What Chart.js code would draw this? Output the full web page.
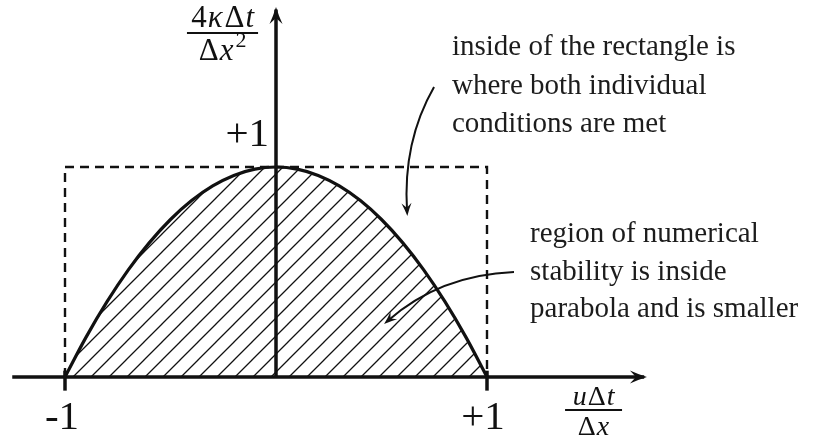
<!DOCTYPE html>
<html>
<head>
<meta charset="utf-8">
<script src="https://cdn.jsdelivr.net/npm/chart.js@4"></script>
<style>
html, body { margin: 0; padding: 0; background: #fff; }
#wrap { width: 831px; height: 443px; position: relative; }
</style>
</head>
<body>
<div id="wrap"><canvas id="myChart"></canvas></div>
<script>
// stability boundary (upper edge of the hatched region)
const curveX = [-1, -0.9, -0.8, -0.7, -0.6, -0.5, -0.4, -0.3, -0.2, -0.1, 0,
                0.1, 0.2, 0.3, 0.4, 0.5, 0.6, 0.7, 0.8, 0.9, 1];
const curveY = [0, 0.19, 0.36, 0.51, 0.64, 0.75, 0.84, 0.91, 0.96, 0.99, 1,
                0.99, 0.96, 0.91, 0.84, 0.75, 0.64, 0.51, 0.36, 0.19, 0];

// dashed box of the two separate conditions
const boxX = [-1, -1, 1, 1];
const boxY = [0, 1, 1, 0];

const tickValues = [-1, 1];
const tickLabels = ['-1', '+1'];
const peakValue = 1;
const peakLabel = '+1';

const noteTop = ['inside of the rectangle is', 'where both individual', 'conditions are met'];
const noteBottom = ['region of numerical', 'stability is inside', 'parabola and is smaller'];

const INK = '#111';
const SERIF = '"Liberation Serif", "DejaVu Serif", serif';

function hatchPattern() {
  const c = document.createElement('canvas');
  c.width = 18; c.height = 18;
  const g = c.getContext('2d');
  g.strokeStyle = INK;
  g.lineWidth = 1.3;
  g.beginPath();
  g.moveTo(-2, 20); g.lineTo(20, -2);
  g.moveTo(-2, 2); g.lineTo(2, -2);
  g.moveTo(16, 20); g.lineTo(20, 16);
  g.stroke();
  return g.createPattern(c, 'repeat');
}

function toPoints(xs, ys) {
  return xs.map((x, i) => ({ x: x, y: ys[i] }));
}

// LaTeX style arrow head, tip at (x, y), pointing along angle
function arrowHead(ctx, x, y, angle, len, half) {
  ctx.save();
  ctx.translate(x, y);
  ctx.rotate(angle);
  ctx.beginPath();
  ctx.moveTo(0, 0);
  ctx.quadraticCurveTo(-len * 0.5, -half * 0.4, -len, -half);
  ctx.lineTo(-len * 0.65, 0);
  ctx.lineTo(-len, half);
  ctx.quadraticCurveTo(-len * 0.5, half * 0.4, 0, 0);
  ctx.closePath();
  ctx.fill();
  ctx.restore();
}

// text built from runs with different styles, centred on cx
function mathText(ctx, parts, cx, y, size) {
  const fontOf = p => (p.it ? 'italic ' : '') + Math.round(size * (p.s || 1)) + 'px ' + SERIF;
  let w = 0;
  parts.forEach(p => { ctx.font = fontOf(p); w += ctx.measureText(p.t).width + (p.gap || 0); });
  let x = cx - w / 2;
  parts.forEach(p => {
    ctx.font = fontOf(p);
    ctx.fillText(p.t, x, y + (p.dy || 0));
    x += ctx.measureText(p.t).width + (p.gap || 0);
  });
}

const decorations = {
  id: 'decorations',
  afterDatasetsDraw(chart) {
    const ctx = chart.ctx;
    const xs = chart.scales.x, ys = chart.scales.y;
    const px = v => xs.getPixelForValue(v);
    const py = v => ys.getPixelForValue(v);

    ctx.save();
    ctx.strokeStyle = INK;
    ctx.fillStyle = INK;
    ctx.lineCap = 'butt';

    // axes
    ctx.lineWidth = 3.5;
    ctx.beginPath();
    ctx.moveTo(px(-1.25), py(0));
    ctx.lineTo(px(1.745), py(0));
    ctx.moveTo(px(0), py(0));
    ctx.lineTo(px(0), py(1.75));
    ctx.stroke();
    arrowHead(ctx, px(1.758), py(0), 0, 17, 6.5);
    arrowHead(ctx, px(0), py(1.762), -Math.PI / 2, 17, 6.5);

    // ticks at -1 and +1
    tickValues.forEach(v => {
      ctx.beginPath();
      ctx.moveTo(px(v), py(0.03));
      ctx.lineTo(px(v), py(-0.065));
      ctx.stroke();
    });

    ctx.textBaseline = 'alphabetic';
    ctx.font = '41px ' + SERIF;
    ctx.textAlign = 'center';
    ctx.fillText(tickLabels[0], px(tickValues[0]) - 3, py(-0.248));
    ctx.fillText(tickLabels[1], px(tickValues[1]) - 4, py(-0.248));
    ctx.textAlign = 'right';
    ctx.fillText(peakLabel, px(0) - 7, py(peakValue + 0.10));

    // axis titles as fractions
    ctx.textAlign = 'left';
    const cy = px(-0.253);
    mathText(ctx, [{ t: '4', gap: 1 }, { t: 'κ', it: true, gap: 2 }, { t: 'Δ', gap: 1 }, { t: 't', it: true }],
      cy, 27, 31);
    ctx.lineWidth = 1.8;
    ctx.beginPath();
    ctx.moveTo(px(-0.422), 33); ctx.lineTo(px(-0.085), 33);
    ctx.stroke();
    mathText(ctx, [{ t: 'Δ', gap: 1 }, { t: 'x', it: true, gap: 2 }, { t: '2', s: 0.7, dy: -13 }],
      cy, 60, 31);

    const cx = px(1.505);
    mathText(ctx, [{ t: 'u', it: true, gap: 1 }, { t: 'Δ', gap: 1 }, { t: 't', it: true }],
      cx, 405, 28);
    ctx.beginPath();
    ctx.moveTo(px(1.370), 410); ctx.lineTo(px(1.640), 410);
    ctx.stroke();
    mathText(ctx, [{ t: 'Δ', gap: 1 }, { t: 'x', it: true }], cx, 435, 28);

    // notes
    ctx.fillStyle = '#1c1c1c';
    ctx.font = '29px ' + SERIF;
    ctx.textAlign = 'left';
    noteTop.forEach((s, i) => ctx.fillText(s, px(0.834), py(1.533 - i * 0.183)));
    noteBottom.forEach((s, i) => ctx.fillText(s, px(1.204), py(0.643 - i * 0.179)));

    // curved pointers
    ctx.fillStyle = INK;
    ctx.lineWidth = 2;
    const pointers = [
      [[0.749, 1.381], [0.600, 1.120], [0.621, 0.790]],
      [[1.128, 0.500], [0.777, 0.486], [0.530, 0.268]]
    ];
    pointers.forEach(([a, c, b]) => {
      ctx.beginPath();
      ctx.moveTo(px(a[0]), py(a[1]));
      ctx.quadraticCurveTo(px(c[0]), py(c[1]), px(b[0]), py(b[1]));
      ctx.stroke();
      const ang = Math.atan2(py(b[1]) - py(c[1]), px(b[0]) - px(c[0]));
      arrowHead(ctx, px(b[0]) + Math.cos(ang) * 5, py(b[1]) + Math.sin(ang) * 5, ang, 13, 5);
    });

    ctx.restore();
  }
};

const data = {
  datasets: [
    {
      label: 'stability',
      data: toPoints(curveX, curveY),
      showLine: true,
      tension: 0.4,
      borderColor: INK,
      borderWidth: 3.2,
      pointRadius: 0,
      fill: 'origin',
      backgroundColor: hatchPattern(),
      order: 1
    },
    {
      label: 'box',
      data: toPoints(boxX, boxY),
      showLine: true,
      tension: 0,
      borderColor: INK,
      borderWidth: 2.4,
      borderDash: [9, 6],
      pointRadius: 0,
      fill: false,
      order: 2
    }
  ]
};

const config = {
  type: 'scatter',
  data: data,
  options: {
    responsive: true,
    maintainAspectRatio: false,
    animation: false,
    layout: { padding: 0 },
    plugins: {
      legend: { display: false },
      tooltip: { enabled: false }
    },
    scales: {
      x: { type: 'linear', display: false, min: -276 / 211, max: 555 / 211 },
      y: { type: 'linear', display: false, min: -66 / 210, max: 377 / 210 }
    }
  },
  plugins: [decorations]
};

const myChart = new Chart('myChart', config);
</script>
</body>
</html>
